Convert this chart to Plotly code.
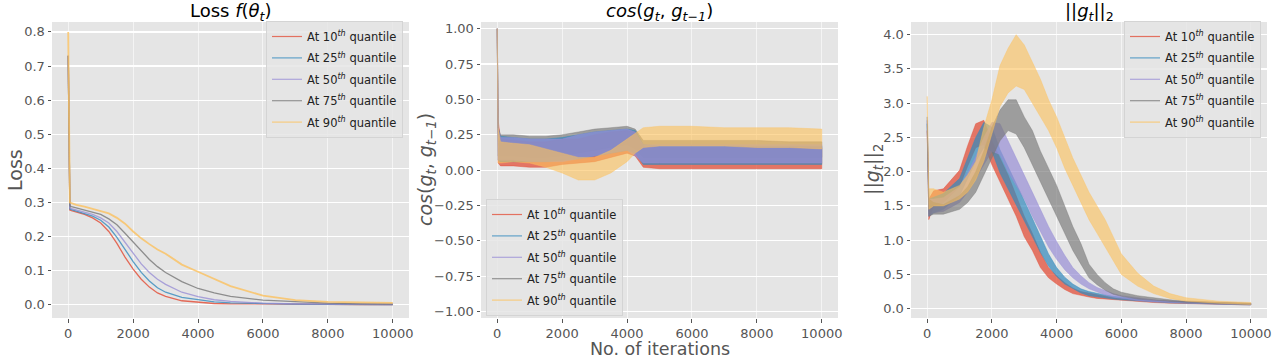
import plotly.graph_objects as go

# ---------------- data ----------------
labels = ["10", "25", "50", "75", "90"]
colors = ["226,74,51", "52,138,189", "152,142,213", "119,119,119", "251,193,94"]

# Panel 1: loss
loss_iter = [0, 50, 100, 250, 500, 750, 1000, 1250, 1500, 1750, 2000, 2250, 2500, 2750,
             3000, 3500, 4000, 4500, 5000, 6000, 7000, 8000, 9000, 10000]
loss_q10 = [0.73, 0.278, 0.276, 0.272, 0.265, 0.255, 0.24, 0.215, 0.18, 0.14, 0.105, 0.075, 0.052,
            0.035, 0.025, 0.012, 0.007, 0.004, 0.003, 0.002, 0.001, 0.001, 0.001, 0.001]
loss_q25 = [0.73, 0.281, 0.279, 0.275, 0.268, 0.26, 0.248, 0.228, 0.198, 0.162, 0.127, 0.095, 0.07,
            0.05, 0.037, 0.022, 0.015, 0.009, 0.006, 0.003, 0.002, 0.0015, 0.001, 0.001]
loss_q50 = [0.73, 0.284, 0.282, 0.278, 0.272, 0.265, 0.255, 0.24, 0.215, 0.183, 0.15, 0.12, 0.095,
            0.075, 0.06, 0.037, 0.024, 0.015, 0.01, 0.005, 0.003, 0.002, 0.0015, 0.001]
loss_q75 = [0.73, 0.29, 0.288, 0.284, 0.278, 0.272, 0.265, 0.252, 0.235, 0.21, 0.185, 0.158, 0.133,
            0.112, 0.095, 0.068, 0.048, 0.035, 0.025, 0.014, 0.009, 0.005, 0.003, 0.002]
loss_q90 = [0.80, 0.30, 0.298, 0.293, 0.288, 0.282, 0.276, 0.268, 0.255, 0.238, 0.215, 0.195, 0.178,
            0.162, 0.15, 0.118, 0.097, 0.075, 0.055, 0.027, 0.014, 0.009, 0.007, 0.006]

# Panel 2: cosine similarity (noise band: lower / upper envelope)
cos_iter = [0, 30, 100, 500, 1000, 1500, 2000, 2500, 3000, 3500, 4000, 4250, 4500, 5000,
            6000, 7000, 8000, 9000, 10000]
cos_q10_lo = [1.0, 0.05, 0.03, 0.03, 0.02, 0.02, 0.04, 0.05, 0.06, 0.09, 0.12, 0.1, 0.02, 0.01, 0.01, 0.01, 0.01, 0.01, 0.01]
cos_q10_hi = [1.0, 0.35, 0.22, 0.21, 0.2, 0.2, 0.22, 0.22, 0.25, 0.27, 0.28, 0.27, 0.17, 0.16, 0.16, 0.16, 0.16, 0.16, 0.16]
cos_q25_lo = [1.0, 0.07, 0.06, 0.06, 0.06, 0.06, 0.07, 0.08, 0.1, 0.12, 0.14, 0.12, 0.04, 0.04, 0.04, 0.04, 0.04, 0.04, 0.04]
cos_q25_hi = [1.0, 0.3, 0.24, 0.23, 0.22, 0.22, 0.23, 0.25, 0.27, 0.28, 0.29, 0.28, 0.18, 0.17, 0.17, 0.17, 0.17, 0.17, 0.17]
cos_q50_lo = [1.0, 0.07, 0.07, 0.07, 0.06, 0.06, 0.06, 0.08, 0.1, 0.12, 0.14, 0.1, 0.05, 0.05, 0.05, 0.05, 0.05, 0.05, 0.05]
cos_q50_hi = [1.0, 0.3, 0.23, 0.23, 0.22, 0.22, 0.22, 0.25, 0.27, 0.28, 0.29, 0.27, 0.18, 0.18, 0.18, 0.18, 0.18, 0.18, 0.18]
cos_q75_lo = [1.0, 0.1, 0.1, 0.1, 0.09, 0.09, 0.1, 0.12, 0.14, 0.16, 0.18, 0.15, 0.09, 0.09, 0.09, 0.09, 0.09, 0.09, 0.09]
cos_q75_hi = [1.0, 0.3, 0.25, 0.25, 0.24, 0.24, 0.25, 0.27, 0.29, 0.3, 0.31, 0.29, 0.21, 0.21, 0.21, 0.21, 0.21, 0.2, 0.2]
cos_q90_lo = [1.0, 0.05, 0.05, 0.06, 0.05, 0.02, -0.02, -0.07, -0.07, -0.02, 0.06, 0.12, 0.16, 0.17, 0.17, 0.17, 0.16, 0.16, 0.15]
cos_q90_hi = [1.0, 0.3, 0.2, 0.19, 0.18, 0.15, 0.12, 0.09, 0.09, 0.14, 0.22, 0.26, 0.3, 0.31, 0.31, 0.3, 0.3, 0.3, 0.29]

# Panel 3: gradient norm (noise band: lower / upper envelope)
gn_iter = [0, 50, 200, 500, 1000, 1250, 1500, 1750, 2000, 2250, 2500, 2750, 3000, 3250, 3500,
           3750, 4000, 4250, 4500, 4750, 5000, 5250, 5500, 5750, 6000, 6500, 7000, 7500, 8000, 9000, 10000]
gn_q10_lo = [2.6, 1.3, 1.5, 1.55, 1.78, 2.08, 2.35, 2.4, 2.1, 1.85, 1.6, 1.35, 1.05, 0.85, 0.6, 0.45,
             0.36, 0.28, 0.22, 0.19, 0.17, 0.15, 0.14, 0.13, 0.12, 0.1, 0.09, 0.08, 0.075, 0.065, 0.055]
gn_q10_hi = [2.6, 1.6, 1.72, 1.75, 2.02, 2.38, 2.7, 2.75, 2.45, 2.2, 1.95, 1.65, 1.35, 1.1, 0.82, 0.6,
             0.48, 0.38, 0.3, 0.25, 0.22, 0.2, 0.18, 0.16, 0.15, 0.13, 0.12, 0.11, 0.1, 0.085, 0.075]
gn_q25_lo = [2.7, 1.35, 1.4, 1.45, 1.65, 1.9, 2.15, 2.35, 2.3, 1.98, 1.75, 1.5, 1.28, 1.05, 0.82, 0.62,
             0.47, 0.36, 0.29, 0.23, 0.19, 0.17, 0.15, 0.14, 0.13, 0.11, 0.1, 0.085, 0.08, 0.065, 0.055]
gn_q25_hi = [2.7, 1.6, 1.62, 1.68, 1.9, 2.2, 2.5, 2.72, 2.65, 2.32, 2.08, 1.82, 1.58, 1.32, 1.05, 0.8,
             0.6, 0.46, 0.36, 0.29, 0.25, 0.22, 0.2, 0.18, 0.16, 0.14, 0.12, 0.11, 0.1, 0.085, 0.075]
gn_q50_lo = [2.75, 1.35, 1.4, 1.42, 1.55, 1.7, 1.9, 2.1, 2.3, 2.25, 2.0, 1.8, 1.6, 1.35, 1.12, 0.9,
             0.72, 0.57, 0.45, 0.36, 0.29, 0.24, 0.2, 0.17, 0.15, 0.12, 0.1, 0.09, 0.08, 0.065, 0.055]
gn_q50_hi = [2.75, 1.6, 1.6, 1.62, 1.78, 1.98, 2.22, 2.5, 2.72, 2.7, 2.45, 2.2, 1.95, 1.7, 1.45, 1.2,
             0.98, 0.78, 0.6, 0.48, 0.38, 0.31, 0.26, 0.22, 0.19, 0.16, 0.13, 0.11, 0.1, 0.085, 0.075]
gn_q75_lo = [2.8, 1.35, 1.38, 1.38, 1.45, 1.55, 1.7, 1.95, 2.2, 2.45, 2.6, 2.55, 2.35, 2.1, 1.85, 1.6,
             1.35, 1.1, 0.85, 0.65, 0.45, 0.35, 0.27, 0.21, 0.18, 0.14, 0.12, 0.1, 0.09, 0.07, 0.06]
gn_q75_hi = [2.8, 1.6, 1.55, 1.52, 1.65, 1.78, 2.0, 2.3, 2.65, 2.9, 3.05, 3.05, 2.8, 2.6, 2.3, 2.05,
             1.8, 1.5, 1.2, 0.95, 0.65, 0.5, 0.38, 0.29, 0.24, 0.19, 0.16, 0.13, 0.11, 0.09, 0.08]
gn_q90_lo = [3.1, 1.45, 1.5, 1.5, 1.6, 1.7, 1.88, 2.15, 2.55, 2.95, 3.15, 3.25, 3.2, 3.0, 2.8, 2.6,
             2.35, 2.05, 1.8, 1.55, 1.3, 1.1, 0.9, 0.7, 0.5, 0.33, 0.22, 0.15, 0.11, 0.08, 0.06]
gn_q90_hi = [3.1, 1.75, 1.75, 1.7, 1.8, 1.95, 2.15, 2.65, 3.05, 3.55, 3.8, 4.0, 3.85, 3.6, 3.35, 3.05,
             2.8, 2.5, 2.2, 1.95, 1.7, 1.5, 1.3, 1.05, 0.8, 0.52, 0.33, 0.22, 0.16, 0.11, 0.09]

x_ticks = [0, 2000, 4000, 6000, 8000, 10000]
loss_ticks = [0.0, 0.1, 0.2, 0.3, 0.4, 0.5, 0.6, 0.7, 0.8]
cos_ticks = [-1.0, -0.75, -0.5, -0.25, 0.0, 0.25, 0.5, 0.75, 1.0]
gn_ticks = [0.0, 0.5, 1.0, 1.5, 2.0, 2.5, 3.0, 3.5, 4.0]

loss_series = [loss_q10, loss_q25, loss_q50, loss_q75, loss_q90]
cos_series = [(cos_q10_lo, cos_q10_hi), (cos_q25_lo, cos_q25_hi), (cos_q50_lo, cos_q50_hi),
              (cos_q75_lo, cos_q75_hi), (cos_q90_lo, cos_q90_hi)]
gn_series = [(gn_q10_lo, gn_q10_hi), (gn_q25_lo, gn_q25_hi), (gn_q50_lo, gn_q50_hi),
             (gn_q75_lo, gn_q75_hi), (gn_q90_lo, gn_q90_hi)]

# ---------------- figure ----------------
W, H = 1280, 358
FONT = "DejaVu Sans"
fig = go.Figure()

def legend_name(q):
    return f"At {q}<sup><i>th</i></sup> quantile"

band_alpha = [0.72, 0.72, 0.7, 0.65, 0.62]

# loss lines
for i, c in enumerate(colors):
    fig.add_trace(go.Scatter(x=loss_iter, y=loss_series[i], mode="lines",
                             line=dict(color=f"rgba({c},0.8)", width=1.8 if i == 4 else 1.3),
                             xaxis="x", yaxis="y", showlegend=False, hoverinfo="skip"))

# cosine bands (75th drawn first so the lower quantiles show on top of it)
for i in [3, 0, 1, 2, 4]:
    c = colors[i]
    lo, hi = cos_series[i]
    fig.add_trace(go.Scatter(x=cos_iter + cos_iter[::-1], y=lo + hi[::-1], mode="lines",
                             fill="toself", fillcolor=f"rgba({c},{band_alpha[i]})",
                             line=dict(color=f"rgba({c},{band_alpha[i]})", width=0.6),
                             xaxis="x2", yaxis="y2", showlegend=False, hoverinfo="skip"))

# grad-norm bands
for i, c in enumerate(colors):
    lo, hi = gn_series[i]
    fig.add_trace(go.Scatter(x=gn_iter + gn_iter[::-1], y=lo + hi[::-1], mode="lines",
                             fill="toself", fillcolor=f"rgba({c},{band_alpha[i]})",
                             line=dict(color=f"rgba({c},{band_alpha[i]})", width=0.6),
                             xaxis="x3", yaxis="y3", showlegend=False, hoverinfo="skip"))

# legend entries
for k, (xa, ya, lg) in enumerate([("x", "y", "legend"), ("x2", "y2", "legend2"), ("x3", "y3", "legend3")]):
    for i, (q, c) in enumerate(zip(labels, colors)):
        fig.add_trace(go.Scatter(x=[None], y=[None], mode="lines",
                                 line=dict(color=f"rgba({c},0.75)", width=1.2),
                                 name=legend_name(q), xaxis=xa, yaxis=ya, legend=lg,
                                 legendgroup=f"{lg}_{i}", showlegend=True))

def px_x(p):
    return p / W

def px_y(p):
    return 1 - p / H

top, bottom = 22, 318
doms = [(52, 409), (481, 838), (911, 1267)]

axis_common = dict(showgrid=True, gridcolor="white", gridwidth=1.2, zeroline=False,
                   showline=False, ticks="outside", ticklen=3.5, tickwidth=1, tickcolor="#555555",
                   tickfont=dict(family=FONT, size=13, color="#555555"))

layout = dict(width=W, height=H, margin=dict(l=0, r=0, t=0, b=0, autoexpand=False),
              paper_bgcolor="white", plot_bgcolor="#E5E5E5", hovermode=False,
              font=dict(family=FONT, color="#555555"))

yranges = [[-0.0385, 0.829], [-1.045, 1.047], [-0.136, 4.185]]
yticks = [loss_ticks, cos_ticks, gn_ticks]
yfmt = [".1f", ".2f", ".1f"]
for k in range(3):
    xn = "xaxis" if k == 0 else f"xaxis{k+1}"
    yn = "yaxis" if k == 0 else f"yaxis{k+1}"
    xa = dict(axis_common)
    xa.update(domain=[px_x(doms[k][0]), px_x(doms[k][1])], range=[-500, 10500],
              tickvals=x_ticks, tickformat="d", anchor="y" if k == 0 else f"y{k+1}",
              gridcolor="rgba(255,255,255,0.7)", gridwidth=0.8)
    ya = dict(axis_common)
    ya.update(domain=[px_y(bottom), px_y(top)], range=yranges[k], tickvals=yticks[k],
              tickformat=yfmt[k], anchor="x" if k == 0 else f"x{k+1}")
    layout[xn] = xa
    layout[yn] = ya

leg_common = dict(bgcolor="rgba(229,229,229,0.85)", bordercolor="#d4d4d4", borderwidth=1,
                  font=dict(family=FONT, size=11.5, color="#222222"), itemwidth=30,
                  tracegroupgap=2.4, traceorder="grouped")
layout["legend"] = dict(leg_common, x=px_x(403), xanchor="right", y=px_y(21), yanchor="top")
layout["legend2"] = dict(leg_common, x=px_x(486), xanchor="left", y=px_y(316), yanchor="bottom")
layout["legend3"] = dict(leg_common, x=px_x(1261), xanchor="right", y=px_y(21), yanchor="top")

titles = ["Loss <i>f</i>(<i>θ<sub>t</sub></i>)",
          "<i>cos</i>(<i>g<sub>t</sub></i>, <i>g<sub>t−1</sub></i>)",
          "||<i>g<sub>t</sub></i>||<sub>2</sub>"]
ylabels = ["Loss",
           "<i>cos</i>(<i>g<sub>t</sub></i>, <i>g<sub>t−1</sub></i>)",
           "||<i>g<sub>t</sub></i>||<sub>2</sub>"]
ylabel_x = [15, 426, 873]

ann = []
for k in range(3):
    cx = (doms[k][0] + doms[k][1]) / 2
    ann.append(dict(text=titles[k], x=px_x(cx), y=px_y(12), xref="paper", yref="paper",
                    xanchor="center", yanchor="middle", showarrow=False,
                    font=dict(family=FONT, size=18, color="black")))
    ann.append(dict(text=ylabels[k], x=px_x(ylabel_x[k]), y=px_y(170), xref="paper", yref="paper",
                    xanchor="center", yanchor="middle", showarrow=False, textangle=-90,
                    font=dict(family=FONT, size=19, color="#555555")))
ann.append(dict(text="No. of iterations", x=px_x(660), y=px_y(348.5), xref="paper", yref="paper",
                xanchor="center", yanchor="middle", showarrow=False,
                font=dict(family=FONT, size=17.5, color="#555555")))
layout["annotations"] = ann

fig.update_layout(**layout)
fig.write_html("out.html", config={"displayModeBar": False, "staticPlot": True},
               post_script="document.body.style.margin='0px';document.body.style.overflow='hidden';")
